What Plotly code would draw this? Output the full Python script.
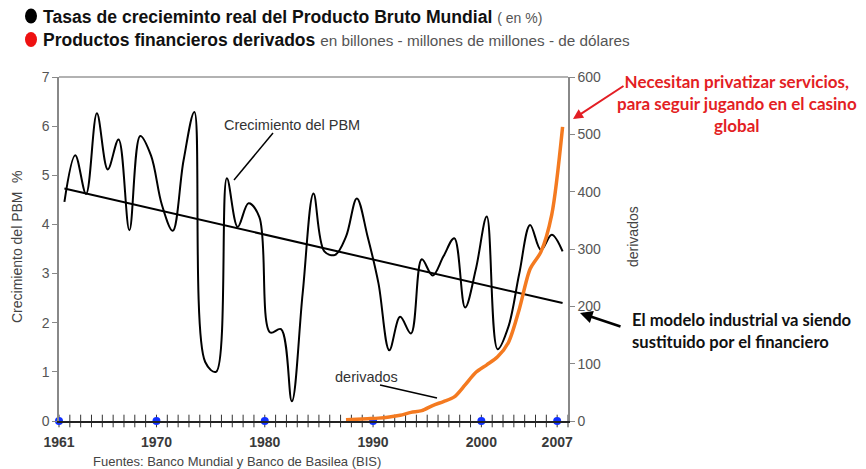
import plotly.graph_objects as go

# ---------------- data ----------------
years = list(range(1961, 2008))
gdp_growth = [4.46, 5.41, 4.62, 6.26, 5.12, 5.73, 3.88, 5.80, 5.40, 4.40,
              3.87, 5.30, 6.29, 1.20, 1.00, 4.94, 3.95, 4.43, 4.15, 1.80,
              1.87, 0.40, 2.60, 4.63, 3.45, 3.38, 3.75, 4.53, 3.75, 2.80,
              1.44, 2.12, 1.78, 3.29, 2.96, 3.35, 3.72, 2.31, 3.10, 4.16,
              1.46, 1.92, 3.00, 3.99, 3.48, 3.79, 3.45]
trend_years = [1961, 2007]
trend_values = [4.73, 2.40]
deriv_years = list(range(1987, 2008))
deriv_values = [2, 3, 4, 5, 7, 10, 15, 18, 27, 34, 42, 63, 85, 98, 112, 137,
                195, 265, 295, 360, 513]
label_years = [1961, 1970, 1980, 1990, 2000, 2007]
left_ticks = [0, 1, 2, 3, 4, 5, 6, 7]
right_ticks = [0, 100, 200, 300, 400, 500, 600]

# ---------------- layout geometry ----------------
W, H = 866, 469
L, R, T, B = 59, 568, 77, 421
PW, PH = R - L, B - T
FONT = "Liberation Sans, Arial, sans-serif"
CAL = "Lato, 'Open Sans', sans-serif"


def px(x, y):
    """pixel -> paper coords"""
    return (x - L) / PW, (B - y) / PH


# bins: each year occupies one unit; label ticks at bin left edges
edge = lambda yr: yr - 0.5

fig = go.Figure()

# tick crosses on x axis
fig.add_trace(go.Scatter(
    x=[edge(y) for y in years] + [years[-1] + 0.5], y=[0] * (len(years) + 1),
    mode="markers", marker=dict(symbol="line-ns", size=9,
                                line=dict(width=1, color="#333")),
    cliponaxis=False, hoverinfo="skip", showlegend=False))

fig.add_trace(go.Scatter(
    x=years, y=gdp_growth, mode="lines",
    line=dict(color="black", width=2, shape="spline", smoothing=1.0),
    cliponaxis=False, showlegend=False))

fig.add_trace(go.Scatter(
    x=trend_years, y=trend_values, mode="lines",
    line=dict(color="black", width=2), showlegend=False))

fig.add_trace(go.Scatter(
    x=deriv_years, y=deriv_values, mode="lines", yaxis="y2",
    line=dict(color="#f47a20", width=3.5, shape="spline", smoothing=0.8),
    cliponaxis=False, showlegend=False))

# blue dots at labeled years
fig.add_trace(go.Scatter(
    x=[edge(y) for y in label_years], y=[0] * len(label_years),
    mode="markers", marker=dict(color="#1030ff", size=8),
    cliponaxis=False, hoverinfo="skip", showlegend=False))

fig.update_layout(
    width=W, height=H,
    margin=dict(l=L, r=W - R, t=T, b=H - B),
    paper_bgcolor="white", plot_bgcolor="white",
    font=dict(family=FONT, color="#444"),
    xaxis=dict(range=[years[0] - 0.5, years[-1] + 0.5],
               tickvals=[edge(y) for y in label_years],
               ticktext=["<b>%d</b>" % y for y in label_years],
               ticks="outside", ticklen=7, tickcolor="rgba(0,0,0,0)",
               tickfont=dict(size=14, color="#3a3a3a", family=FONT),
               showgrid=False, zeroline=False,
               showline=True, linecolor="#222", linewidth=1.5),
    yaxis=dict(range=[0, 7], tickvals=left_ticks,
               ticks="outside", ticklen=5, tickcolor="#888",
               tickfont=dict(size=14, color="#555"),
               showgrid=False, zeroline=False,
               showline=True, linecolor="#888", linewidth=1.5),
    yaxis2=dict(range=[0, 600], tickvals=right_ticks, overlaying="y",
                side="right", ticks="outside", ticklen=5, tickcolor="#888",
                tickfont=dict(size=14, color="#555"),
                showgrid=False, zeroline=False,
                showline=True, linecolor="#888", linewidth=1.5),
)

# top border
fig.add_shape(type="line", xref="paper", yref="paper", x0=0, x1=1, y0=1, y1=1,
              line=dict(color="#999", width=1.5))

# header dots
for (cy, col) in [(16, "black"), (39.5, "#ee1111")]:
    x0, y0 = px(25, cy + 7.5)
    x1, y1 = px(37, cy - 7.5)
    fig.add_shape(type="circle", xref="paper", yref="paper",
                  x0=x0, x1=x1, y0=y0, y1=y1,
                  fillcolor=col, line=dict(width=0))

anns = []


def txt(x, y, text, size, color="#444", xanchor="left",
        yanchor="middle", align="left", angle=0, family=FONT):
    xp, yp = px(x, y)
    anns.append(dict(x=xp, y=yp, xref="paper", yref="paper", text=text,
                     showarrow=False, xanchor=xanchor, yanchor=yanchor,
                     align=align, textangle=angle,
                     font=dict(size=size, color=color, family=family)))


txt(41, 17, "<b>Tasas de crecieminto real del Producto Bruto Mundial</b>"
    " <span style='font-size:14px;color:#555'>( en %)</span>", 17.6, "#111")
txt(41, 40, "<b>Productos financieros derivados</b>"
    " <span style='font-size:15.3px;color:#555'>en billones - millones de millones - de dólares</span>",
    17.5, "#111")

txt(292, 125, "Crecimiento del PBM", 14.5, "#333", xanchor="center")
txt(366, 377, "derivados", 14.5, "#333", xanchor="center")

txt(17, 257, "Crecimiento del PBM", 14, "#444", xanchor="center", angle=-90)
txt(17, 177, "%", 14, "#444", xanchor="center", angle=-90)
txt(633, 237, "derivados", 14, "#444", xanchor="center", angle=-90)

txt(91, 461, "Fuentes: Banco Mundial y Banco de Basilea (BIS)", 13, "#444")

txt(737, 103, "<b>Necesitan privatizar servicios,<br>para seguir jugando en el casino<br>global</b>",
    17, "#e31e24", xanchor="center", align="center", family=CAL)
txt(630, 331, "<b>El modelo industrial va siendo<br>sustituido por el financiero</b>",
    16.6, "#111", family=CAL)

# arrows
hx, hy = px(573, 119)
anns.append(dict(x=hx, y=hy, xref="paper", yref="paper", ax=52, ay=-34,
                 showarrow=True, arrowhead=2, arrowsize=1, arrowwidth=2,
                 arrowcolor="#e31e24", text=""))
hx, hy = px(580, 313)
anns.append(dict(x=hx, y=hy, xref="paper", yref="paper", ax=42, ay=14,
                 showarrow=True, arrowhead=2, arrowsize=1, arrowwidth=2.5,
                 arrowcolor="black", text=""))
fig.update_layout(annotations=anns)

# leader lines
for (a, b) in [((273, 133), (234, 180)), ((380, 385), (437, 398))]:
    x0, y0 = px(*a)
    x1, y1 = px(*b)
    fig.add_shape(type="line", xref="paper", yref="paper",
                  x0=x0, y0=y0, x1=x1, y1=y1,
                  line=dict(color="black", width=1.5))

fig.write_html("out.html",
               config={"displayModeBar": False},
               post_script="document.body.style.margin='0px';"
                           "document.body.style.padding='0px';")
